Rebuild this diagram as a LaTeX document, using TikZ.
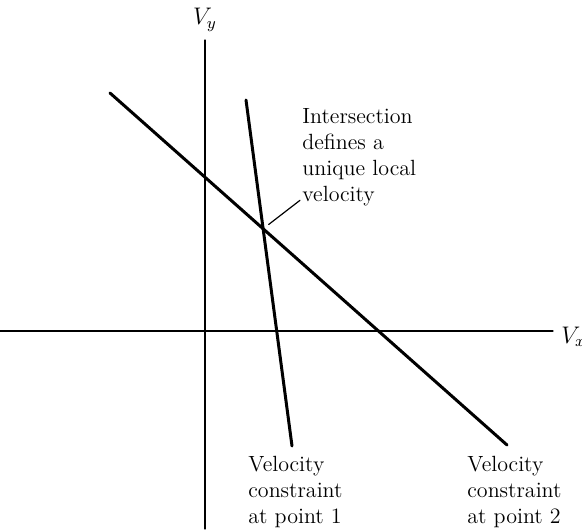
\documentclass[tikz,border=0pt]{standalone}
\usepackage{amsmath,amssymb}
\usetikzlibrary{arrows.meta,calc,positioning}

\begin{document}
\begin{tikzpicture}[x=0.5pt,y=0.5pt,line cap=round,line join=round,
  axis/.style={line width=0.65pt},
  constraint/.style={line width=1.5pt},
  leader/.style={line width=0.6pt},
  axlbl/.style={font=\fontsize{12}{14}\selectfont,inner sep=0pt},
  lbl/.style={font=\fontsize{11}{13}\selectfont,align=left,inner sep=0pt,anchor=north west}]
 \useasboundingbox (-205,-198) rectangle (377,331);
 % axes
 \coordinate (xlo) at (-205,0);
 \coordinate (xhi) at (348,0);
 \coordinate (ylo) at (0,-198);
 \coordinate (yhi) at (0,291);
 \draw[axis] (xlo) -- (xhi);
 \draw[axis] (ylo) -- (yhi);
 \node[axlbl,anchor=base] (vy) at (0,306) {$V_y$};
 \node[axlbl,anchor=base west] (vx) at (356,-12) {$V_x$};
 % the two constraint lines
 \coordinate (c1top) at (41,231);
 \coordinate (c1bot) at (87,-115);
 \coordinate (c2top) at (-95,238);
 \coordinate (c2bot) at (302,-114);
 \draw[constraint] (c1top) -- (c1bot);
 \draw[constraint] (c2top) -- (c2bot);
 \coordinate (meet) at (intersection of c1top--c1bot and c2top--c2bot);
 % labels
 \node[lbl] (note) at (97,223)
  {Intersection\\defines a\\unique local\\velocity};
 \draw[leader,shorten <=3.5pt] (meet) -- ([xshift=-1pt,yshift=3pt]note.south west);
 \node[lbl] (lab1) at (43,-125) {Velocity\\constraint\\at point 1};
 \node[lbl] (lab2) at (262,-125) {Velocity\\constraint\\at point 2};
\end{tikzpicture}
\end{document}
